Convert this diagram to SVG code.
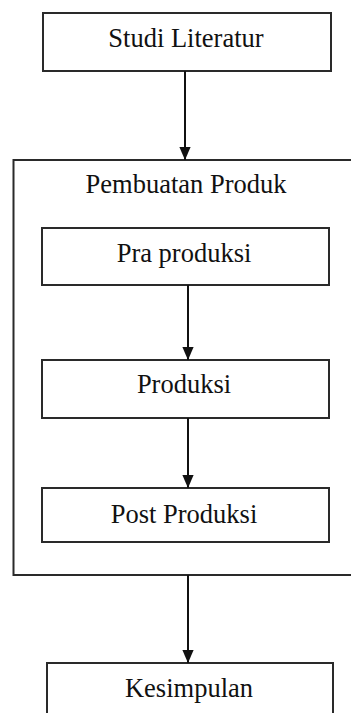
<svg xmlns="http://www.w3.org/2000/svg" width="351" height="713" viewBox="0 0 351 713">
<defs>
<marker id="arr" markerWidth="13" markerHeight="15" refX="15" refY="6.5" orient="auto" markerUnits="userSpaceOnUse" viewBox="0 0 15 13">
<path d="M0,0 L15,6.5 L0,13 Z" fill="#111"/>
</marker>
</defs>
<style>
.box{fill:#fff;stroke:#2a2a2a;stroke-width:2}
.lbl{font-family:"Liberation Serif","Times New Roman",serif;font-size:26.5px;fill:#111;text-anchor:middle}
.con{stroke:#111;stroke-width:2;fill:none;marker-end:url(#arr)}
</style>
<rect width="351" height="713" fill="#fff"/>
<g id="pembuatan">
<rect class="box" x="13.5" y="160" width="350" height="415"/>
<text class="lbl" x="186" y="193">Pembuatan Produk</text>
</g>
<g id="studi">
<rect class="box" x="43" y="13" width="288" height="58"/>
<text class="lbl" x="186" y="47">Studi Literatur</text>
</g>
<g id="pra">
<rect class="box" x="42" y="228" width="287" height="57"/>
<text class="lbl" x="184" y="262">Pra produksi</text>
</g>
<g id="produksi">
<rect class="box" x="42" y="360" width="287" height="58"/>
<text class="lbl" x="184" y="393">Produksi</text>
</g>
<g id="post">
<rect class="box" x="42" y="488" width="287" height="54"/>
<text class="lbl" x="184" y="523">Post Produksi</text>
</g>
<g id="kesimpulan">
<rect class="box" x="47" y="663" width="286" height="70"/>
<text class="lbl" x="189" y="697">Kesimpulan</text>
</g>
<g id="connectors">
<line class="con" x1="185" y1="71" x2="185" y2="160"/>
<line class="con" x1="188" y1="285" x2="188" y2="360"/>
<line class="con" x1="188" y1="418" x2="188" y2="488"/>
<line class="con" x1="188" y1="575" x2="188" y2="663"/>
</g>
</svg>
